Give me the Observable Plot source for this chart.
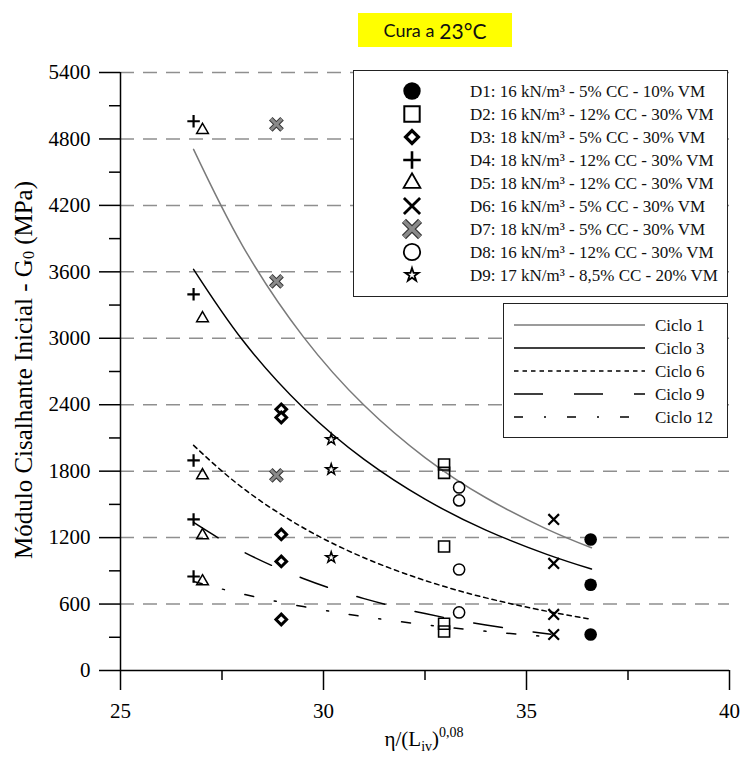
<!DOCTYPE html>
<html>
<head>
<meta charset="utf-8">
<script src="https://cdn.jsdelivr.net/npm/d3@7"></script>
<script src="https://cdn.jsdelivr.net/npm/@observablehq/plot@0.6"></script>
<style>
  body { margin: 0; background: #fff; }
  #wrap { position: relative; width: 742px; height: 757px; }
  #title { position: absolute; left: 358px; top: 13px; width: 154px; height: 34px; background: #ffff00;
    font-family: Lato, "Open Sans", sans-serif; display: flex; align-items: center; justify-content: center; z-index: 2; color: #111; }
  #title .a { font-size: 18px; }
  #title .b { font-size: 21px; margin-left: 5px; }
  #wrap svg text { font-family: "Liberation Serif", "Times New Roman", serif; }
</style>
</head>
<body>
<div id="wrap"><div id="title"><span class="a">Cura a</span><span class="b">23°C</span></div></div>
<script>
// ---------- data ----------
const xTicks = [25, 30, 35, 40];
const xMinor = [27.5, 32.5, 37.5];
const yTicks = [0, 600, 1200, 1800, 2400, 3000, 3600, 4200, 4800, 5400];
const yMinor = [300, 900, 1500, 2100, 2700, 3300, 3900, 4500, 5100];
const gridY = [600, 1200, 1800, 2400, 3000, 3600, 4200, 4800, 5400];

const seriesNames = [
  "D1: 16 kN/m³ - 5% CC - 10% VM",
  "D2: 16 kN/m³ - 12% CC - 30% VM",
  "D3: 18 kN/m³ - 5% CC - 30% VM",
  "D4: 18 kN/m³ - 12% CC - 30% VM",
  "D5: 18 kN/m³ - 12% CC - 30% VM",
  "D6: 16 kN/m³ - 5% CC - 30% VM",
  "D7: 18 kN/m³ - 5% CC - 30% VM",
  "D8: 16 kN/m³ - 12% CC - 30% VM",
  "D9: 17 kN/m³ - 8,5% CC - 20% VM"
];
const d1X = 36.58, d1G = [1183, 775, 325];
const d2X = 32.97, d2G = [1860, 1785, 1120, 422, 352];
const d3X = 28.96, d3G = [2358, 2285, 1229, 985, 461];
const d4X = 26.80, d4G = [4960, 3397, 1897, 1364, 849];
const d5X = 27.02, d5G = [4880, 3180, 1762, 1220, 804];
const d6X = 35.67, d6G = [1364, 967, 506, 325];
const d7X = 28.84, d7G = [4932, 3514, 1762];
const d8X = 33.34, d8G = [1653, 1536, 912, 524];
const d9X = 30.19, d9G = [2087, 1816, 1021];

const cycleNames = ["Ciclo 1", "Ciclo 3", "Ciclo 6", "Ciclo 9", "Ciclo 12"];
const c1X = [26.8, 28, 29.5, 31, 32.5, 34, 35.5, 36.6];
const c1G = [4706, 3840, 3015, 2395, 1923, 1560, 1277, 1108];
const c3X = [26.8, 28, 29.5, 31, 32.5, 34, 35.5, 36.6];
const c3G = [3622, 2986, 2372, 1906, 1547, 1268, 1049, 916];
const c6X = [26.8, 28, 29.5, 31, 32.5, 34, 35.5, 36.6];
const c6G = [2033, 1651, 1289, 1018, 813, 656, 535, 463];
const c9X = [26.8, 28, 29.5, 31, 32.5, 34, 35.6];
const c9G = [1337, 1076, 831, 649, 514, 411, 327];
const c12X = [26.8, 28, 29.5, 31, 32.5, 34, 35.6];
const c12G = [804, 691, 577, 486, 413, 354, 302];

// ---------- tables ----------
const pts = (x, g) => g.map(v => ({x, g: v}));
const crv = (xs, gs) => xs.map((x, i) => ({x, g: gs[i]}));

const serif = "Liberation Serif, Times New Roman, serif";

const lineStyles = [
  {stroke: "#7a7a7a", dash: null},
  {stroke: "#000", dash: null},
  {stroke: "#000", dash: "4.5,4"},
  {stroke: "#000", dash: "29,31"},
  {stroke: "#000", dash: "9,21,2,21"}
];
const curves = [crv(c1X, c1G), crv(c3X, c3G), crv(c6X, c6G), crv(c9X, c9G), crv(c12X, c12G)];

const chart = Plot.plot({
  width: 742,
  height: 757,
  marginLeft: 120,
  marginRight: 13,
  marginTop: 72,
  marginBottom: 87,
  x: {domain: [25, 40]},
  y: {domain: [0, 5400]},
  style: {fontFamily: serif, fontSize: "21px", background: "white", color: "black"},
  marks: [
    Plot.ruleY(gridY, {x1: 25, x2: 40, stroke: "#8f8f8f", strokeWidth: 1.5, strokeDasharray: "14,9"}),
    Plot.axisY({ticks: yMinor, tickSize: 11, tickFormat: () => "", label: null, strokeWidth: 1.5}),
    Plot.axisY({ticks: yTicks, tickSize: 21, tickPadding: 9, tickFormat: d => String(d), label: null,
      fontSize: 21, fontFamily: serif, strokeWidth: 1.5}),
    Plot.axisX({ticks: xMinor, tickSize: 10, tickFormat: () => "", label: null, strokeWidth: 1.5}),
    Plot.axisX({ticks: xTicks, tickSize: 20, tickPadding: 13, tickFormat: d => String(d), label: null,
      fontSize: 21, fontFamily: serif, strokeWidth: 1.5}),
    Plot.ruleX([25], {y1: 0, y2: 5400, strokeWidth: 1.5}),
    Plot.ruleY([0], {x1: 25, x2: 40, strokeWidth: 1.5}),
    ...curves.map((c, i) => Plot.line(c, {x: "x", y: "g", curve: "natural", stroke: lineStyles[i].stroke,
      strokeWidth: 1.5, strokeDasharray: lineStyles[i].dash})),
    Plot.dot(pts(d1X, d1G), {x: "x", y: "g", symbol: "circle", r: 6.3, fill: "black", stroke: "none"}),
    Plot.dot(pts(d2X, d2G), {x: "x", y: "g", symbol: "square2", r: 7, fill: "none", stroke: "black", strokeWidth: 1.6}),
    Plot.dot(pts(d3X, d3G), {x: "x", y: "g", symbol: "diamond2", r: 4.8, fill: "white", stroke: "black", strokeWidth: 3}),
    Plot.dot(pts(d4X, d4G), {x: "x", y: "g", symbol: "plus", r: 4.1, fill: "none", stroke: "black", strokeWidth: 2.2}),
    Plot.dot(pts(d5X, d5G), {x: "x", y: "g", symbol: "triangle2", r: 5.6, fill: "none", stroke: "black", strokeWidth: 1.5}),
    Plot.dot(pts(d6X, d6G), {x: "x", y: "g", symbol: "times", r: 4.9, fill: "none", stroke: "black", strokeWidth: 2.2}),
    Plot.dot(pts(d7X, d7G), {x: "x", y: "g", symbol: "times", r: 5.2, fill: "none", stroke: "#333", strokeWidth: 5}),
    Plot.dot(pts(d7X, d7G), {x: "x", y: "g", symbol: "times", r: 5.0, fill: "none", stroke: "#8a8a8a", strokeWidth: 3}),
    Plot.dot(pts(d8X, d8G), {x: "x", y: "g", symbol: "circle", r: 5.6, fill: "none", stroke: "black", strokeWidth: 1.5}),
    Plot.dot(pts(d9X, d9G), {x: "x", y: "g", symbol: "star", r: 3.4, fill: "white", stroke: "black", strokeWidth: 1.5})
  ]
});

document.getElementById("wrap").prepend(chart);

// ---------- labels & legends ----------
const svg = d3.select(chart);

const yl = svg.append("text")
  .attr("transform", "translate(23,370) rotate(-90)")
  .attr("text-anchor", "middle").attr("dominant-baseline", "central")
  .attr("font-family", serif).attr("font-size", 25).attr("fill", "black");
yl.append("tspan").text("Módulo Cisalhante Inicial - G");
yl.append("tspan").attr("font-size", 16).attr("dy", 5).text("0");
yl.append("tspan").attr("dy", -5).text(" (MPa)");

const xl = svg.append("text")
  .attr("x", 424).attr("y", 746)
  .attr("text-anchor", "middle")
  .attr("font-family", serif).attr("font-size", 21).attr("fill", "black");
xl.append("tspan").text("η/(L");
xl.append("tspan").attr("font-size", 14).attr("dy", 5).text("iv");
xl.append("tspan").attr("dy", -5).text(")");
xl.append("tspan").attr("font-size", 14).attr("dy", -9).text("0,08");

// legend 1
const lg1 = svg.append("g").attr("text-anchor", "start");
lg1.append("rect").attr("x", 353.5).attr("y", 70.5).attr("width", 374).attr("height", 226)
  .attr("fill", "white").attr("stroke", "#222").attr("stroke-width", 1);
const rows1 = [91, 114, 137, 160, 183, 206, 229, 252, 275];
const legSyms = [
  {t: d3.symbolCircle, r: 8.7, fill: "black", stroke: "none", sw: 0},
  {t: d3.symbolSquare2, r: 9.8, fill: "none", stroke: "black", sw: 2},
  {t: d3.symbolDiamond2, r: 5.8, fill: "white", stroke: "black", sw: 3.2},
  {t: d3.symbolPlus, r: 5.7, fill: "none", stroke: "black", sw: 2.6},
  {t: d3.symbolTriangle2, r: 8, fill: "none", stroke: "black", sw: 1.8},
  {t: d3.symbolTimes, r: 7.4, fill: "none", stroke: "black", sw: 2.8},
  {t: d3.symbolTimes, r: 7.4, fill: "none", stroke: "#8a8a8a", sw: 3.6, outline: true},
  {t: d3.symbolCircle, r: 8.2, fill: "none", stroke: "black", sw: 1.8},
  {t: d3.symbolStar, r: 4.2, fill: "white", stroke: "black", sw: 1.8}
];
legSyms.forEach((s, i) => {
  const p = d3.symbol(s.t, Math.PI * s.r * s.r)();
  if (s.outline) {
    lg1.append("path").attr("d", p).attr("transform", `translate(412,${rows1[i]})`)
      .attr("fill", "none").attr("stroke", "#333").attr("stroke-width", 5.8);
  }
  lg1.append("path").attr("d", p).attr("transform", `translate(412,${rows1[i]})`)
    .attr("fill", s.fill).attr("stroke", s.stroke).attr("stroke-width", s.sw);
  lg1.append("text").attr("x", 470).attr("y", rows1[i]).attr("dy", "0.35em").attr("text-anchor", "start")
    .attr("font-family", serif).attr("font-size", 17).attr("fill", "#111").text(seriesNames[i]);
});

// legend 2
const lg2 = svg.append("g").attr("text-anchor", "start");
lg2.append("rect").attr("x", 503.5).attr("y", 303.5).attr("width", 224).attr("height", 134)
  .attr("fill", "white").attr("stroke", "#222").attr("stroke-width", 1);
const rows2 = [325, 348, 371, 394, 417];
cycleNames.forEach((n, i) => {
  lg2.append("line").attr("x1", 514).attr("x2", 645).attr("y1", rows2[i]).attr("y2", rows2[i])
    .attr("stroke", lineStyles[i].stroke).attr("stroke-width", 1.5)
    .attr("stroke-dasharray", lineStyles[i].dash);
  lg2.append("text").attr("x", 655).attr("y", rows2[i]).attr("dy", "0.35em").attr("text-anchor", "start")
    .attr("font-family", serif).attr("font-size", 17).attr("fill", "#111").text(n);
});
</script>
</body>
</html>
